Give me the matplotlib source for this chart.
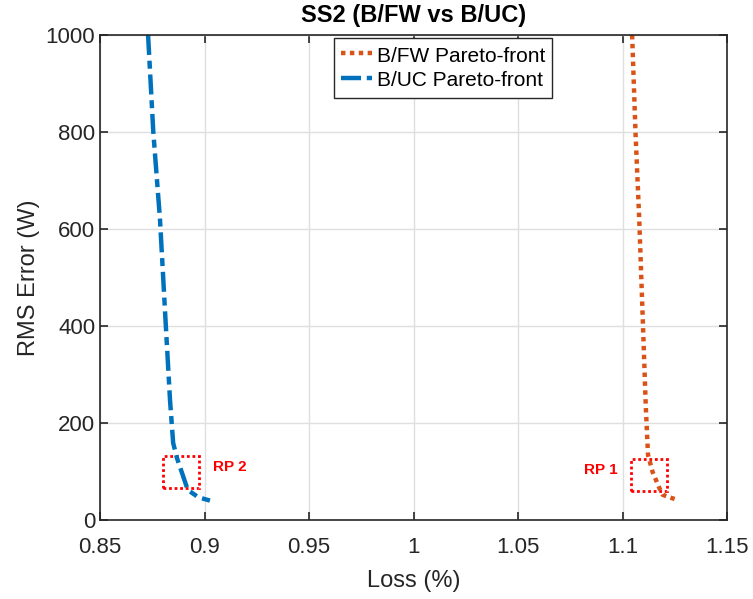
import matplotlib
matplotlib.use("Agg")
from matplotlib import pyplot as plt
from matplotlib.patches import Rectangle

plt.rcParams['font.family'] = ['Liberation Sans', 'DejaVu Sans']

# Pareto fronts (loss %, RMS error W)
fw_loss = [1.1046, 1.1062, 1.1080, 1.1098, 1.1111, 1.1122, 1.1144, 1.1174, 1.1192, 1.1230, 1.1266]
fw_rms = [1000, 800, 620, 400, 237, 134, 99, 68, 52, 46, 41]
uc_loss = [0.8730, 0.8755, 0.8787, 0.8815, 0.8835, 0.8850, 0.8868, 0.8920, 0.8970, 0.9026]
uc_rms = [1000, 800, 620, 400, 247, 159, 128, 62, 47, 40]

# reference-point boxes: (x0, x1, y0, y1)
rp_names = ["RP 1", "RP 2"]
rp_boxes = [(1.1041, 1.1213, 60, 126), (0.8800, 0.8975, 66, 132)]
rp_text_pos = [(1.0818, 103), (0.9041, 109)]

fig = plt.figure(figsize=(7.53, 5.99), dpi=100)
ax = fig.add_axes([0.1328, 0.1319, 0.8327, 0.8097])

ax.plot(fw_loss, fw_rms, linestyle=(0, (1, 1)), color='#D95319', linewidth=3.2,
        label='B/FW Pareto-front')
ax.plot(uc_loss, uc_rms, linestyle=(0, (4.5, 1.3, 1.8, 1.3)), color='#0072BD', linewidth=3.2,
        label='B/UC Pareto-front')

for name, (x0, x1, y0, y1), (tx, ty) in zip(rp_names, rp_boxes, rp_text_pos):
    ax.add_patch(Rectangle((x0, y0), x1 - x0, y1 - y0, fill=False, edgecolor='red',
                           linestyle=(0, (1, 1)), linewidth=2))
    ax.text(tx, ty, name, color='red', fontsize=11, fontweight='bold',
            ha='left', va='center')

ax.set_xlim(0.85, 1.15)
ax.set_ylim(0, 1000)
ax.set_xticks([0.85, 0.9, 0.95, 1, 1.05, 1.1, 1.15])
ax.set_xticklabels(['0.85', '0.9', '0.95', '1', '1.05', '1.1', '1.15'])
ax.set_yticks([0, 200, 400, 600, 800, 1000])
ax.grid(True, color='#dfdfdf', linewidth=1)
ax.set_axisbelow(True)
ax.tick_params(direction='in', top=True, right=True, labelsize=16, length=6,
               color='#262626', labelcolor='#262626', width=1.2)
ax.tick_params(axis='x', pad=12)
for s in ax.spines.values():
    s.set_color('#262626')
    s.set_linewidth(1.2)

ax.set_xlabel('Loss (%)', fontsize=17, color='#262626', labelpad=9)
ax.set_ylabel('RMS Error (W)', fontsize=17, color='#262626')
ax.set_title('SS2 (B/FW vs B/UC)', fontsize=17, fontweight='bold', pad=9)

leg = ax.legend(loc='upper left', bbox_to_anchor=(0.373, 0.994), borderaxespad=0,
                fontsize=15, fancybox=False, edgecolor='#262626', framealpha=1,
                handlelength=1.5, handleheight=1.0, borderpad=0.35,
                labelspacing=0.2, handletextpad=0.2)
leg.get_frame().set_linewidth(1)

fig.savefig('out.png', dpi=100)
